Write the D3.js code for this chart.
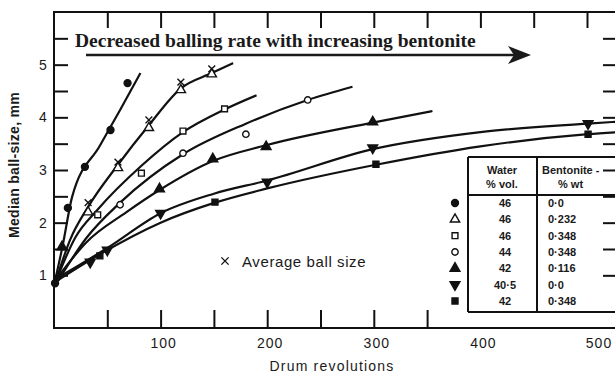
<!DOCTYPE html>
<html lang="en">
<head>
<meta charset="utf-8">
<title>Median ball-size vs drum revolutions</title>
<script src="https://cdn.jsdelivr.net/npm/d3@7"></script>
<style>
  body { margin: 0; background: #fff; }
  svg { display: block; }
  .frame line, .frame path { stroke: #111; stroke-width: 2; fill: none; }
  .tick-lab { font-family: "Liberation Sans", Arial, sans-serif; font-size: 14px; fill: #1a1a1a; }
  .curve { fill: none; stroke: #111; stroke-width: 2.2; }
  .tbl { font-family: "Liberation Sans", Arial, sans-serif; font-size: 11px; font-weight: bold; fill: #1a1a1a; }
</style>
</head>
<body>
<script>
// axis ticks
var xLabels = [100, 200, 300, 400, 500];
var xTicksTop = [50, 100, 150, 200, 250, 300, 350, 400, 450, 500];
var xTicksBottom = [50, 100, 150, 200, 250, 300, 350];
var yLabels = [1, 2, 3, 4, 5];
var yTicks = [1, 1.5, 2, 2.5, 3, 3.5, 4, 4.5, 5, 5.5];

// legend table
var legendWater = ["46", "46", "46", "44", "42", "40·5", "42"];
var legendBentonite = ["0·0", "0·232", "0·348", "0·348", "0·116", "0·0", "0·348"];

// series: measured points [revolutions, median size mm] and the drawn curve
var dotPts = [[1, 0.85], [13, 2.28], [29, 3.06], [53, 3.76], [69, 4.65]];
var dotCurve = [[1, 0.9], [8, 1.55], [17, 2.49], [43, 3.46], [62, 4.14], [81, 4.84]];

var triOpenPts = [[32, 2.2], [60, 3.04], [89, 3.8], [119, 4.52], [148, 4.82]];
var triOpenCurve = [[2, 0.91], [15, 1.67], [32, 2.3], [60, 3.1], [89, 3.85], [119, 4.55], [148, 4.84], [168, 5.03]];
var crossPts = [[32, 2.38], [60, 3.15], [89, 3.95], [119, 4.67], [148, 4.92]];

var sqOpenPts = [[41, 2.15], [82, 2.94], [121, 3.74], [160, 4.16]];
var sqOpenCurve = [[2, 0.9], [20, 1.72], [41, 2.25], [82, 3.08], [121, 3.72], [160, 4.15], [190, 4.42]];

var circOpenPts = [[62, 2.34], [121, 3.32], [180, 3.68], [238, 4.33]];
var circOpenCurve = [[4, 0.9], [30, 1.7], [62, 2.38], [121, 3.3], [180, 3.88], [238, 4.33], [280, 4.58]];

var triPts = [[7.5, 1.54], [99, 2.64], [149, 3.21], [199, 3.44], [299, 3.91]];
var triCurve = [[3, 0.95], [30, 1.62], [68, 2.2], [99, 2.62], [149, 3.17], [199, 3.47], [299, 3.9], [355, 4.12]];

var triDownPts = [[34, 1.25], [50, 1.48], [100, 2.18], [200, 2.77], [299, 3.42], [501, 3.88]];
var triDownCurve = [[3, 0.95], [20, 1.15], [50, 1.52], [100, 2.18], [150, 2.55], [200, 2.8], [300, 3.4], [400, 3.72], [501, 3.88], [530, 3.92]];

var sqPts = [[43, 1.37], [151, 2.39], [302, 3.11], [501, 3.68]];
var sqCurve = [[3, 0.9], [43, 1.4], [100, 2.0], [151, 2.38], [200, 2.65], [302, 3.1], [400, 3.45], [501, 3.68], [530, 3.72]];

var w = 615, h = 376;
var x = d3.scaleLinear().domain([0, 500]).range([54, 587]);
var y = d3.scaleLinear().domain([0, 6]).range([328, 12]);

var svg = d3.select("body").append("svg")
  .attr("width", w)
  .attr("height", h);

// frame: left, top, bottom (right side lies off the picture)
var frame = svg.append("g").attr("class", "frame");
frame.append("line").attr("x1", x(0)).attr("x2", x(0)).attr("y1", y(6)).attr("y2", y(0) + 1);
frame.append("line").attr("x1", x(0) - 1).attr("x2", w).attr("y1", y(6)).attr("y2", y(6));
frame.append("line").attr("x1", x(0) - 1).attr("x2", w).attr("y1", y(0)).attr("y2", y(0));

// inward ticks
svg.append("g").attr("class", "frame")
  .attr("transform", "translate(0," + y(0) + ")")
  .call(d3.axisTop(x).tickValues(xTicksBottom).tickSize(18).tickFormat(""))
  .select(".domain").remove();
svg.append("g").attr("class", "frame")
  .attr("transform", "translate(0," + y(6) + ")")
  .call(d3.axisBottom(x).tickValues(xTicksTop).tickSize(16).tickFormat(""))
  .select(".domain").remove();
svg.append("g").attr("class", "frame")
  .attr("transform", "translate(" + x(0) + ",0)")
  .call(d3.axisRight(y).tickValues(yTicks).tickSize(14).tickFormat(""))
  .select(".domain").remove();
svg.append("g").attr("class", "frame")
  .attr("transform", "translate(617,0)")
  .call(d3.axisLeft(y).tickValues(yTicks).tickSize(14).tickFormat(""))
  .select(".domain").remove();

// tick labels
svg.selectAll(".xlab").data(xLabels).enter().append("text")
  .attr("class", "tick-lab")
  .attr("x", function(d) { return x(d) + (d === 500 ? 12 : 3); })
  .attr("y", 348)
  .attr("text-anchor", "middle")
  .style("letter-spacing", "1px")
  .text(function(d) { return d; });
svg.selectAll(".ylab").data(yLabels).enter().append("text")
  .attr("class", "tick-lab")
  .attr("x", 43)
  .attr("y", function(d) { return y(d) + 5; })
  .attr("text-anchor", "middle")
  .text(function(d) { return d; });

// axis titles
svg.append("text")
  .attr("class", "tick-lab")
  .attr("x", 332).attr("y", 371)
  .attr("text-anchor", "middle")
  .style("font-size", "14px").style("letter-spacing", "1.2px")
  .text("Drum revolutions");
svg.append("text")
  .attr("class", "tick-lab")
  .attr("transform", "translate(19,165) rotate(-90)")
  .attr("text-anchor", "middle")
  .style("font-size", "14px").style("font-weight", "bold").style("letter-spacing", "0.3px")
  .text("Median ball-size,   mm");

// curves
var line = d3.line()
  .x(function(d) { return x(d[0]); })
  .y(function(d) { return y(d[1]); })
  .curve(d3.curveMonotoneX);

var curves = [dotCurve, triOpenCurve, sqOpenCurve, circOpenCurve, triCurve, triDownCurve, sqCurve];
svg.selectAll(".curve").data(curves).enter().append("path")
  .attr("class", "curve")
  .attr("d", line);

// markers
var timesType = d3.symbolTimes || d3.symbolX;
var series = [
  { pts: dotPts, type: d3.symbolCircle, size: 38, fill: "#111", rot: 0 },
  { pts: triOpenPts, type: d3.symbolTriangle, size: 38, fill: "#fff", rot: 0 },
  { pts: sqOpenPts, type: d3.symbolSquare, size: 34, fill: "#fff", rot: 0 },
  { pts: circOpenPts, type: d3.symbolCircle, size: 32, fill: "#fff", rot: 0 },
  { pts: triPts, type: d3.symbolTriangle, size: 42, fill: "#111", rot: 0 },
  { pts: triDownPts, type: d3.symbolTriangle, size: 42, fill: "#111", rot: 180 },
  { pts: sqPts, type: d3.symbolSquare, size: 36, fill: "#111", rot: 0 }
];

series.forEach(function(s) {
  svg.append("g").selectAll("path").data(s.pts).enter().append("path")
    .attr("d", d3.symbol().type(s.type).size(s.size))
    .attr("transform", function(d) { return "translate(" + x(d[0]) + "," + y(d[1]) + ") rotate(" + s.rot + ")"; })
    .attr("fill", s.fill)
    .attr("stroke", "#111")
    .attr("stroke-width", 1.4);
});

svg.append("g").selectAll("path").data(crossPts).enter().append("path")
  .attr("d", d3.symbol().type(timesType).size(32))
  .attr("transform", function(d) { return "translate(" + x(d[0]) + "," + y(d[1]) + ")"; })
  .attr("fill", "none")
  .attr("stroke", "#111")
  .attr("stroke-width", 1.4);

// "x Average ball size" note
svg.append("path")
  .attr("d", d3.symbol().type(timesType).size(36))
  .attr("transform", "translate(225,261)")
  .attr("fill", "none").attr("stroke", "#111").attr("stroke-width", 1.4);
svg.append("text")
  .attr("class", "tick-lab")
  .attr("x", 242).attr("y", 267)
  .style("font-size", "15px").style("letter-spacing", "0.6px")
  .text("Average ball size");

// legend table
var tx0 = 468, tx1 = 537, ty0 = 157, ty1 = 195, ty2 = 312;
var tbl = svg.append("g").attr("class", "frame");
tbl.append("line").attr("x1", tx0).attr("x2", w).attr("y1", ty0).attr("y2", ty0);
tbl.append("line").attr("x1", tx0).attr("x2", w).attr("y1", ty1).attr("y2", ty1);
tbl.append("line").attr("x1", tx0).attr("x2", w).attr("y1", ty2).attr("y2", ty2);
tbl.append("line").attr("x1", tx0).attr("x2", tx0).attr("y1", ty0).attr("y2", ty2);
tbl.append("line").attr("x1", tx1).attr("x2", tx1).attr("y1", ty0).attr("y2", ty2);

svg.append("text").attr("class", "tbl").attr("x", 502).attr("y", 174).attr("text-anchor", "middle").text("Water");
svg.append("text").attr("class", "tbl").attr("x", 502).attr("y", 188).attr("text-anchor", "middle").text("% vol.");
svg.append("text").attr("class", "tbl").attr("x", 542).attr("y", 174).text("Bentonite -");
svg.append("text").attr("class", "tbl").attr("x", 558).attr("y", 188).text("% wt");

var rowY = d3.scalePoint().domain(d3.range(legendWater.length)).range([203, 301]);
svg.selectAll(".lw").data(legendWater).enter().append("text")
  .attr("class", "tbl")
  .attr("x", 505)
  .attr("y", function(d, i) { return rowY(i) + 4; })
  .attr("text-anchor", "middle")
  .text(function(d) { return d; });
svg.selectAll(".lb").data(legendBentonite).enter().append("text")
  .attr("class", "tbl")
  .attr("x", 548)
  .attr("y", function(d, i) { return rowY(i) + 4; })
  .text(function(d) { return d; });
series.forEach(function(s, i) {
  svg.append("path")
    .attr("d", d3.symbol().type(s.type).size(s.size))
    .attr("transform", "translate(455," + rowY(i) + ") rotate(" + s.rot + ")")
    .attr("fill", s.fill)
    .attr("stroke", "#111")
    .attr("stroke-width", 1.4);
});

// annotation with arrow
svg.append("text")
  .attr("x", 75).attr("y", 47)
  .style("font-family", "'Liberation Serif', 'Times New Roman', serif")
  .style("font-weight", "bold")
  .style("font-size", "19.5px")
  .style("fill", "#1a1a1a")
  .text("Decreased balling rate with increasing bentonite");
svg.append("line")
  .attr("x1", 86).attr("x2", 515).attr("y1", 55).attr("y2", 55)
  .attr("stroke", "#1a1a1a").attr("stroke-width", 2.5);
svg.append("path")
  .attr("d", "M531,55 L508,46 L514,55 L508,64 Z")
  .attr("fill", "#1a1a1a");
</script>
</body>
</html>
